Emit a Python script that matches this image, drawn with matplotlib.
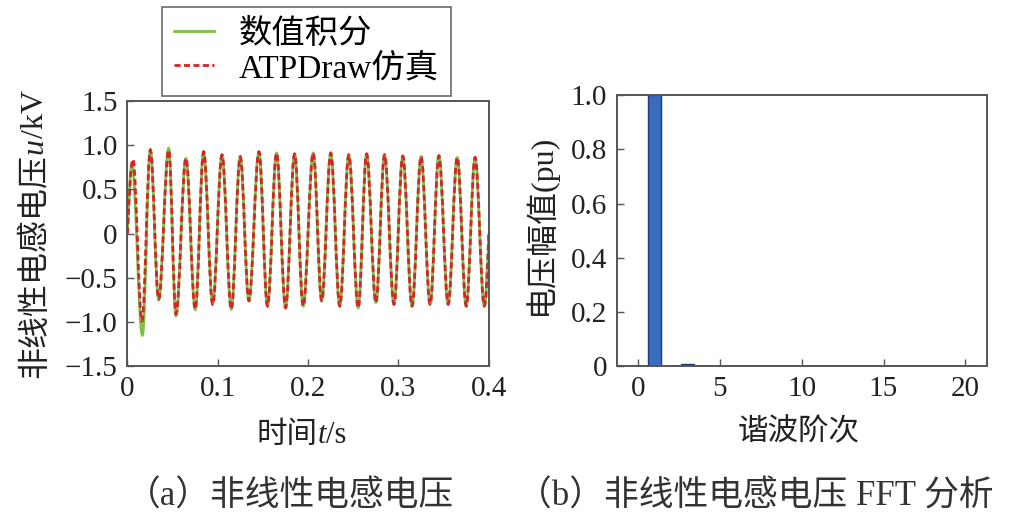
import numpy as np
import matplotlib
matplotlib.use("Agg")
import matplotlib.pyplot as plt
from matplotlib.path import Path
from matplotlib.patches import PathPatch
from matplotlib.lines import Line2D

plt.rcParams['font.family'] = ['Liberation Serif', 'Noto Sans CJK SC']
plt.rcParams['axes.unicode_minus'] = True

# (a) 电压波形极值点 (时间 s, 电压 kV), 读自原图
t_red = [0.0, 0.006, 0.016, 0.0253, 0.0345, 0.0456, 0.0537, 0.0647, 0.075, 0.0843,
         0.0943, 0.1046, 0.1149, 0.1248, 0.1344, 0.1455, 0.155, 0.165, 0.175, 0.185,
         0.1945, 0.2056, 0.215, 0.225, 0.235, 0.245, 0.2554, 0.2647, 0.275, 0.2846,
         0.295, 0.3047, 0.315, 0.325, 0.335, 0.3447, 0.355, 0.365, 0.375, 0.3848,
         0.395, 0.40]
v_red = [0.0, 0.84, -0.99, 0.945, -0.74, 0.945, -0.91, 0.85, -0.855, 0.925,
         -0.80, 0.89, -0.855, 0.87, -0.76, 0.925, -0.82, 0.91, -0.84, 0.90,
         -0.82, 0.91, -0.76, 0.91, -0.82, 0.89, -0.84, 0.90, -0.78, 0.89,
         -0.80, 0.875, -0.82, 0.87, -0.80, 0.88, -0.80, 0.86, -0.82, 0.86,
         -0.82, 0.0]
t_green = [0.0, 0.005, 0.0165, 0.0253, 0.0345, 0.0456, 0.0537, 0.0647, 0.075, 0.0843,
           0.0943, 0.1046, 0.1149, 0.1248, 0.1344, 0.1455, 0.155, 0.165, 0.175, 0.185,
           0.1945, 0.2056, 0.215, 0.225, 0.235, 0.245, 0.2554, 0.2647, 0.275, 0.2846,
           0.295, 0.3047, 0.315, 0.325, 0.335, 0.3447, 0.355, 0.365, 0.375, 0.3848,
           0.395, 0.40]
v_green = [0.0, 0.78, -1.15, 0.95, -0.75, 0.965, -0.93, 0.85, -0.86, 0.925,
           -0.80, 0.89, -0.855, 0.87, -0.76, 0.925, -0.82, 0.91, -0.84, 0.90,
           -0.82, 0.91, -0.76, 0.91, -0.82, 0.89, -0.84, 0.90, -0.78, 0.89,
           -0.80, 0.875, -0.82, 0.87, -0.80, 0.88, -0.80, 0.86, -0.82, 0.86,
           -0.82, 0.0]

# (b) FFT 谐波幅值
orders = list(range(0, 21))
amps = [0.0, 1.0, 0.0, 0.006, 0.0, 0.0, 0.0, 0.0, 0.0, 0.0, 0.0,
        0.0, 0.0, 0.0, 0.0, 0.0, 0.0, 0.0, 0.0, 0.0, 0.0]

c_green = '#7cc242'
c_red = '#d8232a'
c_bar = '#3a6cc0'
c_axis = '#555555'


def wave_path(t, v):
    # 相邻极值点之间用三次贝塞尔曲线连接 (由 matplotlib 绘制)
    verts = [(t[0], v[0])]
    codes = [Path.MOVETO]
    for i in range(len(t) - 1):
        t0, t1, v0, v1 = t[i], t[i + 1], v[i], v[i + 1]
        dt = t1 - t0
        if v0 == 0:
            c1 = (t0 + 0.326 * dt, v0 + 0.512 * (v1 - v0))
        else:
            c1 = (t0 + 0.364 * dt, v0)
        if v1 == 0:
            c2 = (t1 - 0.326 * dt, v1 + 0.512 * (v0 - v1))
        else:
            c2 = (t1 - 0.364 * dt, v1)
        verts += [c1, c2, (t1, v1)]
        codes += [Path.CURVE4] * 3
    return Path(verts, codes)


def style_axes(ax):
    for s in ax.spines.values():
        s.set_color(c_axis)
        s.set_linewidth(1.4)
    ax.tick_params(direction='in', length=5, width=1, color=c_axis,
                   labelsize=21, pad=7, labelcolor='#222222')


fig = plt.figure(figsize=(10.15, 5.32), dpi=100)

# ---- (a)
ax1 = fig.add_axes([0.1256, 0.312, 0.356, 0.498])
ax1.add_patch(PathPatch(wave_path(t_green, v_green), fill=False,
                        edgecolor=c_green, lw=2.0))
ax1.add_patch(PathPatch(wave_path(t_red, v_red), fill=False,
                        edgecolor=c_red, lw=2.0, linestyle=(0, (2.2, 1.2))))
ax1.set_xlim(0, 0.4)
ax1.set_ylim(-1.5, 1.5)
ax1.set_xticks([0, 0.1, 0.2, 0.3, 0.4])
ax1.set_xticklabels(['0', '0.1', '0.2', '0.3', '0.4'])
ax1.set_yticks([-1.5, -1.0, -0.5, 0, 0.5, 1.0, 1.5])
ax1.set_yticklabels(['\u22121.5', '\u22121.0', '\u22120.5', '0', '0.5', '1.0', '1.5'])
style_axes(ax1)

handles = [Line2D([], [], color=c_green, lw=2.0),
           Line2D([], [], color=c_red, lw=2.0, linestyle=(0, (2.2, 1.2)))]
leg = fig.legend(handles, ['数值积分', 'ATPDraw仿真'], loc='upper left',
                 bbox_to_anchor=(0.160, 0.987), fontsize=24, frameon=True,
                 fancybox=False, edgecolor='#444444', handlelength=1.2,
                 handletextpad=0.75, borderpad=0.35, borderaxespad=0,
                 labelspacing=0.12)
leg.get_frame().set_linewidth(1.2)

# y 轴标签: 非线性电感电压 u /kV
lab_kw = dict(fontsize=23, rotation=90, ha='center', va='bottom', color='#222222')
y1 = fig.text(0.0345, 0.289, '非线性电感电压', **lab_kw)
y2 = ax1.annotate('u', xy=(0.5, 1), xycoords=y1, style='italic', **lab_kw)
ax1.annotate('/kV', xy=(0.5, 1), xycoords=y2, **lab_kw)

# x 轴标签: 时间 t /s
xl_kw = dict(fontsize=22, ha='left', va='bottom', color='#222222')
x1 = fig.text(0.253, 0.155, '时间', **xl_kw)
x2 = ax1.annotate('t', xy=(1, 0), xycoords=x1, style='italic', **xl_kw)
ax1.annotate('/s', xy=(1, 0), xycoords=x2, **xl_kw)

# ---- (b)
ax2 = fig.add_axes([0.6076, 0.312, 0.3645, 0.509])
ax2.bar(orders, amps, width=0.8, color=c_bar, edgecolor='#1f3d7a', linewidth=1.0)
ax2.set_xlim(-1.3, 21.3)
ax2.set_ylim(0, 1.0)
ax2.set_xticks([0, 5, 10, 15, 20])
ax2.set_yticks([0, 0.2, 0.4, 0.6, 0.8, 1.0])
ax2.set_yticklabels(['0', '0.2', '0.4', '0.6', '0.8', '1.0'])
style_axes(ax2)

fig.text(0.532, 0.408, '电压幅值(pu)', fontsize=23, rotation=90,
         ha='center', va='bottom', color='#222222')
fig.text(0.787, 0.188, '谐波阶次', fontsize=22, ha='center', va='center',
         color='#222222')

# 子图标题
fig.text(0.286, 0.066, '（a）非线性电感电压', fontsize=25, ha='center',
         va='center', color='#333333')
fig.text(0.744, 0.066, '（b）非线性电感电压 FFT 分析', fontsize=25,
         ha='center', va='center', color='#333333')

fig.savefig('out.png', dpi=100)
